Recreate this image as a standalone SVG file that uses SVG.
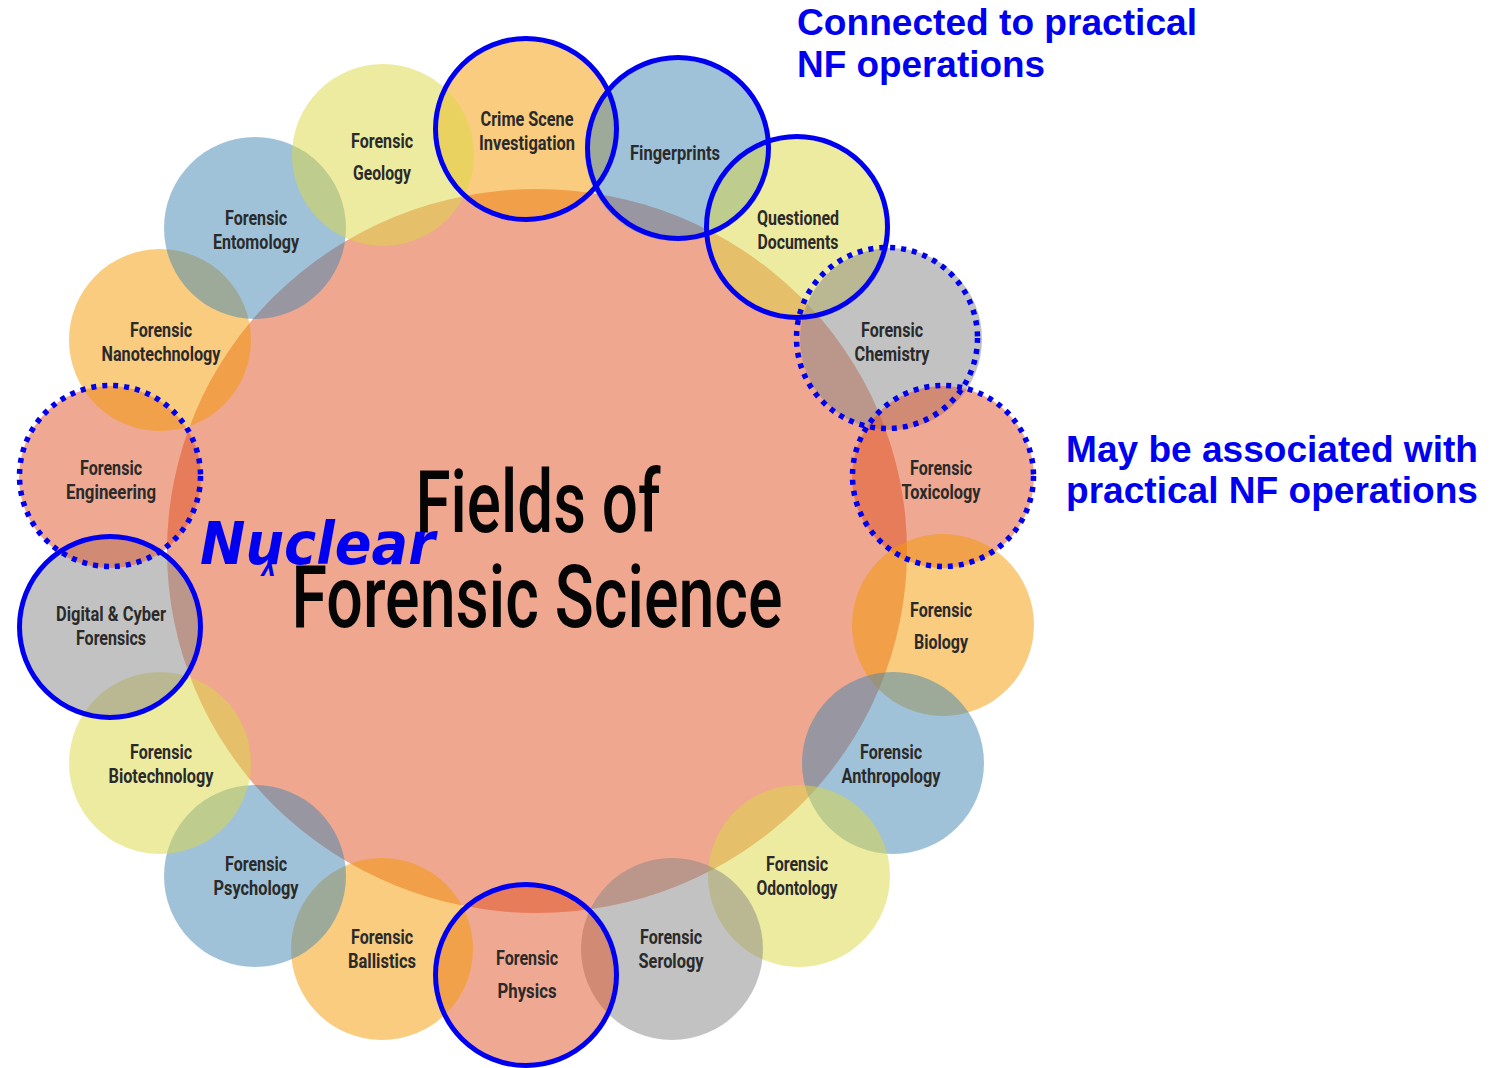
<svg xmlns="http://www.w3.org/2000/svg" width="1496" height="1068" viewBox="0 0 1496 1068">
<style>
.c{opacity:0.5}
.or{fill:#F39901}
.bl{fill:#4185B1}
.ye{fill:#DBD741}
.gr{fill:#858585}
.sa{fill:#DF5123}
.lb{font-family:Roboto,"Liberation Sans",sans-serif;font-weight:bold;font-size:20px;fill:#2a2a2a;text-anchor:middle}
.ring{fill:none;stroke:#0000F0;stroke-width:5}
.dot{fill:none;stroke:#0000F0;stroke-width:5.5;stroke-dasharray:5 6}
.note{font-family:"Liberation Sans",Arial,sans-serif;font-weight:bold;font-size:36px;fill:#0000F0}
.title{font-family:Roboto,"Liberation Sans",sans-serif;font-weight:500;font-size:87px;fill:#050505}
</style>
<rect width="1496" height="1068" fill="#ffffff"/>
<g id="center">
<ellipse cx="537" cy="551" rx="370" ry="362" fill="#EFA790"/>
</g>
<g id="n-crime"><circle class="c or" cx="527" cy="128" r="91"/><text class="lb" x="527" y="126" textLength="93" lengthAdjust="spacingAndGlyphs">Crime Scene</text><text class="lb" x="527" y="150" textLength="96" lengthAdjust="spacingAndGlyphs">Investigation</text></g>
<g id="n-fingerprints"><circle class="c bl" cx="676" cy="150" r="91"/><text class="lb" x="675" y="160" textLength="90" lengthAdjust="spacingAndGlyphs">Fingerprints</text></g>
<g id="n-questioned"><circle class="c ye" cx="799" cy="227" r="91"/><text class="lb" x="798" y="225" textLength="82" lengthAdjust="spacingAndGlyphs">Questioned</text><text class="lb" x="798" y="249" textLength="81" lengthAdjust="spacingAndGlyphs">Documents</text></g>
<g id="n-chemistry"><circle class="c gr" cx="891" cy="339" r="91"/><text class="lb" x="892" y="337" textLength="62" lengthAdjust="spacingAndGlyphs">Forensic</text><text class="lb" x="892" y="361" textLength="75" lengthAdjust="spacingAndGlyphs">Chemistry</text></g>
<g id="n-toxicology"><circle class="c sa" cx="943" cy="477" r="91"/><text class="lb" x="941" y="475" textLength="62" lengthAdjust="spacingAndGlyphs">Forensic</text><text class="lb" x="941" y="499" textLength="79" lengthAdjust="spacingAndGlyphs">Toxicology</text></g>
<g id="n-biology"><circle class="c or" cx="943" cy="625" r="91"/><text class="lb" x="941" y="617" textLength="62" lengthAdjust="spacingAndGlyphs">Forensic</text><text class="lb" x="941" y="649" textLength="54" lengthAdjust="spacingAndGlyphs">Biology</text></g>
<g id="n-anthropology"><circle class="c bl" cx="893" cy="763" r="91"/><text class="lb" x="891" y="759" textLength="62" lengthAdjust="spacingAndGlyphs">Forensic</text><text class="lb" x="891" y="783" textLength="99" lengthAdjust="spacingAndGlyphs">Anthropology</text></g>
<g id="n-odontology"><circle class="c ye" cx="799" cy="876" r="91"/><text class="lb" x="797" y="871" textLength="62" lengthAdjust="spacingAndGlyphs">Forensic</text><text class="lb" x="797" y="895" textLength="81" lengthAdjust="spacingAndGlyphs">Odontology</text></g>
<g id="n-serology"><circle class="c gr" cx="672" cy="949" r="91"/><text class="lb" x="671" y="944" textLength="62" lengthAdjust="spacingAndGlyphs">Forensic</text><text class="lb" x="671" y="968" textLength="65" lengthAdjust="spacingAndGlyphs">Serology</text></g>
<g id="n-physics"><circle class="c sa" cx="527" cy="975" r="91"/><text class="lb" x="527" y="965" textLength="62" lengthAdjust="spacingAndGlyphs">Forensic</text><text class="lb" x="527" y="998" textLength="59" lengthAdjust="spacingAndGlyphs">Physics</text></g>
<g id="n-ballistics"><circle class="c or" cx="382" cy="949" r="91"/><text class="lb" x="382" y="944" textLength="62" lengthAdjust="spacingAndGlyphs">Forensic</text><text class="lb" x="382" y="968" textLength="68" lengthAdjust="spacingAndGlyphs">Ballistics</text></g>
<g id="n-psychology"><circle class="c bl" cx="255" cy="876" r="91"/><text class="lb" x="256" y="871" textLength="62" lengthAdjust="spacingAndGlyphs">Forensic</text><text class="lb" x="256" y="895" textLength="85" lengthAdjust="spacingAndGlyphs">Psychology</text></g>
<g id="n-biotechnology"><circle class="c ye" cx="160" cy="763" r="91"/><text class="lb" x="161" y="759" textLength="62" lengthAdjust="spacingAndGlyphs">Forensic</text><text class="lb" x="161" y="783" textLength="105" lengthAdjust="spacingAndGlyphs">Biotechnology</text></g>
<g id="n-digital"><circle class="c gr" cx="110" cy="625" r="91"/><text class="lb" x="111" y="621" textLength="110" lengthAdjust="spacingAndGlyphs">Digital &amp; Cyber</text><text class="lb" x="111" y="645" textLength="70" lengthAdjust="spacingAndGlyphs">Forensics</text></g>
<g id="n-engineering"><circle class="c sa" cx="110" cy="477" r="91"/><text class="lb" x="111" y="475" textLength="62" lengthAdjust="spacingAndGlyphs">Forensic</text><text class="lb" x="111" y="499" textLength="90" lengthAdjust="spacingAndGlyphs">Engineering</text></g>
<g id="n-nanotechnology"><circle class="c or" cx="160" cy="340" r="91"/><text class="lb" x="161" y="337" textLength="62" lengthAdjust="spacingAndGlyphs">Forensic</text><text class="lb" x="161" y="361" textLength="119" lengthAdjust="spacingAndGlyphs">Nanotechnology</text></g>
<g id="n-entomology"><circle class="c bl" cx="255" cy="228" r="91"/><text class="lb" x="256" y="225" textLength="62" lengthAdjust="spacingAndGlyphs">Forensic</text><text class="lb" x="256" y="249" textLength="86" lengthAdjust="spacingAndGlyphs">Entomology</text></g>
<g id="n-geology"><circle class="c ye" cx="383" cy="155" r="91"/><text class="lb" x="382" y="148" textLength="62" lengthAdjust="spacingAndGlyphs">Forensic</text><text class="lb" x="382" y="180" textLength="58" lengthAdjust="spacingAndGlyphs">Geology</text></g>
<g id="title">
<text class="title" x="538" y="532" text-anchor="middle" textLength="245" lengthAdjust="spacingAndGlyphs">Fields of</text>
<text class="title" x="537" y="627" text-anchor="middle" textLength="491" lengthAdjust="spacingAndGlyphs">Forensic Science</text>
<text x="200" y="564" font-family="'DejaVu Sans',sans-serif" font-weight="bold" font-style="italic" font-size="58" fill="#0000F0" textLength="235" lengthAdjust="spacingAndGlyphs">Nuclear</text>
<text x="261" y="576" font-family="'DejaVu Sans',sans-serif" font-weight="bold" font-style="italic" font-size="22" fill="#0000F0">ʌ</text>
</g>
<g id="highlights">
<circle class="ring" cx="526" cy="129" r="90.5"/>
<circle class="ring" cx="678" cy="148" r="90.5"/>
<circle class="ring" cx="797" cy="227" r="90.5"/>
<circle class="ring" cx="110" cy="627" r="90.5"/>
<circle class="ring" cx="526" cy="975" r="90.5"/>
<circle class="dot" cx="887" cy="338" r="90.5"/>
<circle class="dot" cx="943" cy="476" r="90.5"/>
<circle class="dot" cx="110" cy="476" r="90.5"/>
</g>
<g id="notes">
<text class="note" x="797" y="35" textLength="400" lengthAdjust="spacingAndGlyphs">Connected to practical</text>
<text class="note" x="797" y="77" textLength="248" lengthAdjust="spacingAndGlyphs">NF operations</text>
<text class="note" x="1066" y="462" textLength="412" lengthAdjust="spacingAndGlyphs">May be associated with</text>
<text class="note" x="1066" y="503" textLength="412" lengthAdjust="spacingAndGlyphs">practical NF operations</text>
</g>
</svg>
